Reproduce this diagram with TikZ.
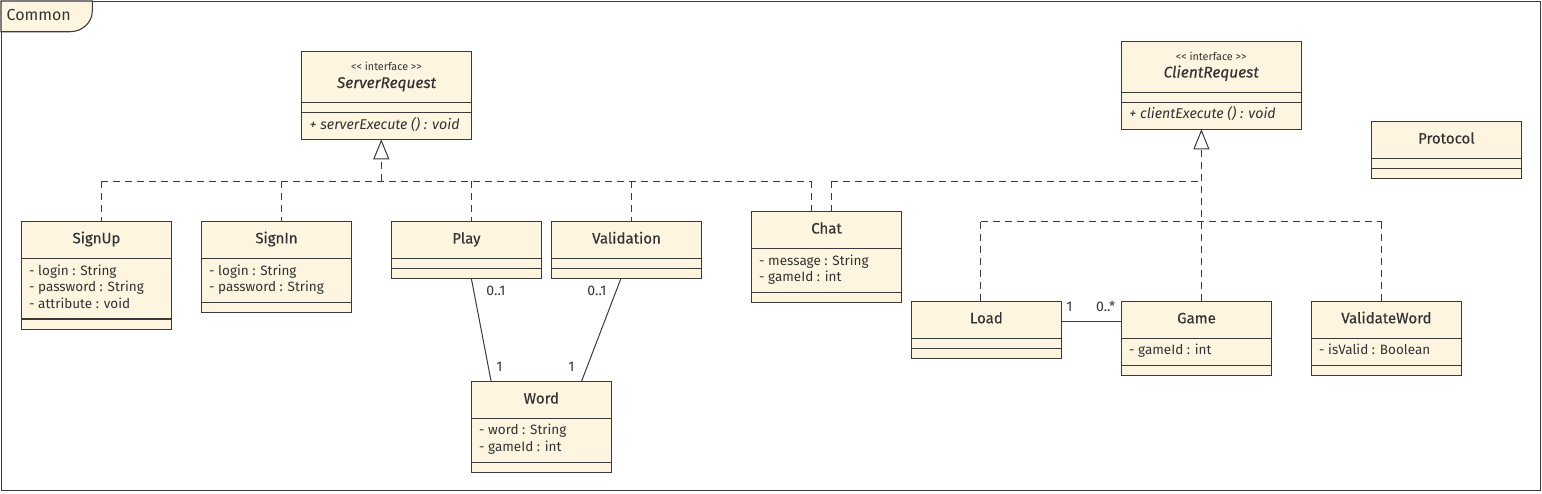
\documentclass[tikz,border=0pt]{standalone}
\usepackage{fontspec}
\setmainfont{Fira Sans}
\newfontfamily\namefont{Fira Sans}[FakeBold=0.35]
\usetikzlibrary{arrows.meta,calc}
\definecolor{cream}{RGB}{254,245,225}
\definecolor{ink}{RGB}{58,58,58}
\definecolor{txt}{RGB}{51,51,51}
% #1 id, #2 left x, #3 top y, #4 width, #5 sep1 y, #6 sep2 y, #7 bottom y  (y measured downwards)
\newcommand\umlbox[7]{%
  \pgfmathsetmacro\umlboxh{#7-#3}%
  \node[clsbox, minimum width=#4, minimum height=\umlboxh, anchor=north west] (#1) at (#2,-#3) {};
  \draw[sepline] (#2,-#5) -- ++(#4,0);
  \draw[sepline] (#2,-#6) -- ++(#4,0);
}
\begin{document}
\begin{tikzpicture}[x=1pt,y=1pt,
  clsbox/.style={draw=ink, fill=cream, line width=1.1pt, inner sep=0pt, outer sep=0pt, rectangle},
  sepline/.style={draw=ink, line width=1.1pt},
  txtbase/.style={text=txt, inner sep=0pt, text height=10pt, text depth=3pt},
  nm/.style={txtbase, font=\namefont\fontsize{15}{17}\selectfont},
  nmi/.style={txtbase, font=\namefont\itshape\fontsize{15.5}{17}\selectfont},
  stereo/.style={text=txt, inner sep=0pt, font=\fontsize{10.8}{12}\selectfont},
  attr/.style={txtbase, anchor=west, font=\fontsize{13.5}{16}\selectfont},
  op/.style={txtbase, anchor=west, font=\itshape\fontsize{14.2}{16}\selectfont},
  mult/.style={txtbase, font=\fontsize{14}{15}\selectfont},
  dep/.style={draw=ink, line width=1pt, dash pattern=on 7pt off 5pt},
  gen/.style={dep, -{Triangle[open, length=20pt, width=16pt, fill=white]}},
  assoc/.style={draw=ink, line width=1pt}
]
\useasboundingbox (0,0) rectangle (1542,-493);
% package frame
\node[draw=ink, line width=1.4pt, minimum width=1539, minimum height=489, inner sep=0pt, anchor=north west] (frame) at (1,-1) {};
\draw[draw=ink, fill=cream, line width=1.1pt] (1,-1) -- (92.3,-1) -- (92.3,-11) to[out=-90,in=0] (70,-31.7) -- (1,-31.7) -- cycle;
\node[txtbase, anchor=west, font=\fontsize{16}{18}\selectfont] (tab) at (6.5,-17.3) {Common};

% classes
\umlbox{serverrequest}{301.3}{51.7}{170.4}{102.7}{112.7}{139.3}
\node[stereo] (srst) at (386.5,-66) {<{}< interface >{}>};
\node[nmi] (srnm) at (386.5,-84.5) {ServerRequest};
\node[op] (srop) at (309.5,-126) {+ serverExecute () : void};

\umlbox{clientrequest}{1121.2}{41.7}{180}{92.3}{102.3}{129.3}
\node[stereo] (crst) at (1211.2,-56) {<{}< interface >{}>};
\node[nmi] (crnm) at (1211.2,-74) {ClientRequest};
\node[op] (crop) at (1129.2,-115.3) {+ clientExecute () : void};

\umlbox{signup}{21.3}{221.3}{150.4}{258.3}{319}{329.3}
\node[nm] (sunm) at (96.5,-239.8) {SignUp};
\node[attr] (sua1) at (29,-271.7) {- login : String};
\node[attr] (sua2) at (29,-288.3) {- password : String};
\node[attr] (sua3) at (29,-305) {- attribute : void};

\umlbox{signin}{201.3}{221.3}{150.4}{258.3}{302.3}{312.3}
\node[nm] (sinm) at (276.5,-239.8) {SignIn};
\node[attr] (sia1) at (209,-271.7) {- login : String};
\node[attr] (sia2) at (209,-288.3) {- password : String};

\umlbox{play}{391.4}{221.7}{150}{258.3}{268.3}{278.3}
\node[nm] (plnm) at (466.4,-240) {Play};

\umlbox{validation}{551.5}{221.7}{150}{258.3}{268.3}{278.3}
\node[nm] (vanm) at (626.5,-240) {Validation};

\umlbox{chat}{751.5}{211.7}{150}{248.3}{292.3}{302.3}
\node[nm] (chnm) at (826.5,-230) {Chat};
\node[attr] (cha1) at (759,-261.7) {- message : String};
\node[attr] (cha2) at (759,-278.3) {- gameId : int};

\umlbox{word}{471.3}{381.7}{140}{418.3}{462.3}{472.3}
\node[nm] (wonm) at (541.3,-400) {Word};
\node[attr] (woa1) at (479,-431) {- word : String};
\node[attr] (woa2) at (479,-448) {- gameId : int};

\umlbox{load}{911.4}{301.3}{150}{338.3}{348.3}{358.3}
\node[nm] (lonm) at (986.4,-319.8) {Load};

\umlbox{game}{1121.3}{301.3}{150.4}{338.3}{365.3}{375.3}
\node[nm] (ganm) at (1196.5,-319.8) {Game};
\node[attr] (gaa1) at (1129,-351.3) {- gameId : int};

\umlbox{validateword}{1311.4}{301.3}{150}{338.3}{365.3}{375.3}
\node[nm] (vwnm) at (1386.4,-319.8) {ValidateWord};
\node[attr] (vwa1) at (1319,-351.3) {- isValid : Boolean};

\umlbox{protocol}{1371.4}{121.7}{150}{158.3}{168.3}{178.3}
\node[nm] (prnm) at (1446.4,-140) {Protocol};

% realization buses
\coordinate (sbL) at (101.3,-181.3);
\coordinate (jsignin) at (281.3,-181.3);
\coordinate (sbM) at (381.3,-181.3);
\coordinate (jplay) at (471.3,-181.3);
\coordinate (jvalid) at (631.4,-181.3);
\coordinate (sbR) at (811.1,-181.3);
\coordinate (jchatC) at (831.1,-181.3);
\coordinate (cbM) at (1201.4,-181.3);
\coordinate (cb2L) at (980.8,-221.7);
\coordinate (cb2R) at (1381.6,-221.7);

\draw[dep] (sbL) -- (sbR);
\draw[dep] (sbL) -- (signup.north -| sbL);
\draw[dep] (jsignin) -- (signin.north -| jsignin);
\draw[dep] (jplay) -- (play.north -| jplay);
\draw[dep] (jvalid) -- (validation.north -| jvalid);
\draw[dep] (sbR) -- (chat.north -| sbR);
\draw[gen] (sbM) -- (serverrequest.south -| sbM);

\draw[dep] (jchatC) -- (cbM);
\draw[dep] (jchatC) -- (chat.north -| jchatC);
\draw[gen] (game.north -| cbM) -- (clientrequest.south -| cbM);
\draw[dep] (cb2L) -- (cb2R);
\draw[dep] (cb2L) -- (load.north -| cb2L);
\draw[dep] (cb2R) -- (validateword.north -| cb2R);

% associations
\coordinate (pw1) at (471.3,0);
\coordinate (pw2) at (491.2,0);
\coordinate (vw1) at (621,0);
\coordinate (vw2) at (581.4,0);
\coordinate (lg) at (0,-321.7);
\draw[assoc] (play.south -| pw1) -- (word.north -| pw2);
\draw[assoc] (validation.south -| vw1) -- (word.north -| vw2);
\draw[assoc] (load.east |- lg) -- (game.west |- lg);

\node[mult] (m1) at (496,-292) {0..1};
\node[mult] (m2) at (499.5,-368.3) {1};
\node[mult] (m3) at (597,-292) {0..1};
\node[mult] (m4) at (571.5,-368.3) {1};
\node[mult] (m5) at (1069.4,-308.3) {1};
\node[mult] (m6) at (1105.7,-308.3) {0..*};
\end{tikzpicture}
\end{document}
